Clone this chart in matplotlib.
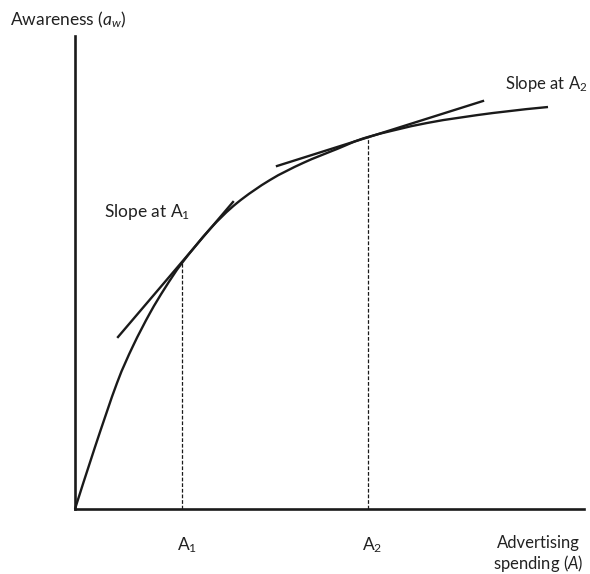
import matplotlib
matplotlib.use("Agg")
import matplotlib.pyplot as plt
from matplotlib.path import Path
from matplotlib.patches import PathPatch

# ---- data (units = arbitrary spending / awareness) ----
curve_x = [0, 20, 42, 58, 75, 90, 107, 135, 162, 195, 228, 262, 293, 352, 418, 473]
curve_y = [0, 62, 126, 163, 196, 221, 246, 280, 306, 329, 346, 360, 372, 386, 396, 402]

tangent1_x = [43, 158]
tangent1_y = [172, 307]
tangent2_x = [202, 408]
tangent2_y = [343, 408]

A1_x, A1_y = 107, 246
A2_x, A2_y = 293, 372

x_max, y_max = 509, 473

plt.rcParams['font.family'] = ['Lato', 'DejaVu Sans']
plt.rcParams['mathtext.fontset'] = 'custom'
plt.rcParams['mathtext.rm'] = 'Lato'
plt.rcParams['mathtext.it'] = 'Lato:italic'

W, H = 590, 574
fig = plt.figure(figsize=(W / 100, H / 100), dpi=100)
ax = fig.add_axes([75 / W, (H - 509) / H, x_max / W, y_max / H])
ax.set_xlim(0, x_max)
ax.set_ylim(0, y_max)
for s in ['top', 'right']:
    ax.spines[s].set_visible(False)
for s in ['left', 'bottom']:
    ax.spines[s].set_linewidth(1.9)
    ax.spines[s].set_color('#1a1a1a')
ax.set_xticks([])
ax.set_yticks([])

lc = '#1a1a1a'


def smooth_path(xs, ys):
    """Cubic Bezier path through the given points (Catmull-Rom handles)."""
    pts = list(zip(xs, ys))
    verts = [pts[0]]
    codes = [Path.MOVETO]
    n = len(pts)
    for i in range(n - 1):
        p0 = pts[i - 1] if i > 0 else pts[i]
        p1 = pts[i]
        p2 = pts[i + 1]
        p3 = pts[i + 2] if i + 2 < n else pts[i + 1]
        c1 = (p1[0] + (p2[0] - p0[0]) / 6, p1[1] + (p2[1] - p0[1]) / 6)
        c2 = (p2[0] - (p3[0] - p1[0]) / 6, p2[1] - (p3[1] - p1[1]) / 6)
        verts += [c1, c2, p2]
        codes += [Path.CURVE4] * 3
    return Path(verts, codes)


ax.add_patch(PathPatch(smooth_path(curve_x, curve_y), facecolor='none',
                       edgecolor=lc, lw=1.7, clip_on=False))
ax.plot(tangent1_x, tangent1_y, color=lc, lw=1.7, clip_on=False)
ax.plot(tangent2_x, tangent2_y, color=lc, lw=1.7, clip_on=False)
ax.plot([A1_x, A1_x], [0, A1_y], color=lc, lw=0.9, ls=(0, (3, 1.5)))
ax.plot([A2_x, A2_x], [0, A2_y], color=lc, lw=0.9, ls=(0, (3, 1.5)))

fs = 12.5
tc = '#222222'
ax.text(-65, 489, r"Awareness ($a_w$)", ha='left', va='center', fontsize=fs, color=tc, clip_on=False)
ax.text(29, 297, r"Slope at A$_1$", ha='left', va='center', fontsize=fs, color=tc)
ax.text(430, 425, r"Slope at A$_2$", ha='left', va='center', fontsize=12, color=tc, clip_on=False)
ax.text(102, -36, r"A$_1$", ha='left', va='center', fontsize=fs, color=tc, clip_on=False)
ax.text(287, -36, r"A$_2$", ha='left', va='center', fontsize=fs, color=tc, clip_on=False)
ax.text(463, -26, "Advertising\nspending ($A$)", ha='center', va='top', fontsize=12,
        color=tc, linespacing=1.15, clip_on=False)

fig.savefig("out.png", dpi=100)
